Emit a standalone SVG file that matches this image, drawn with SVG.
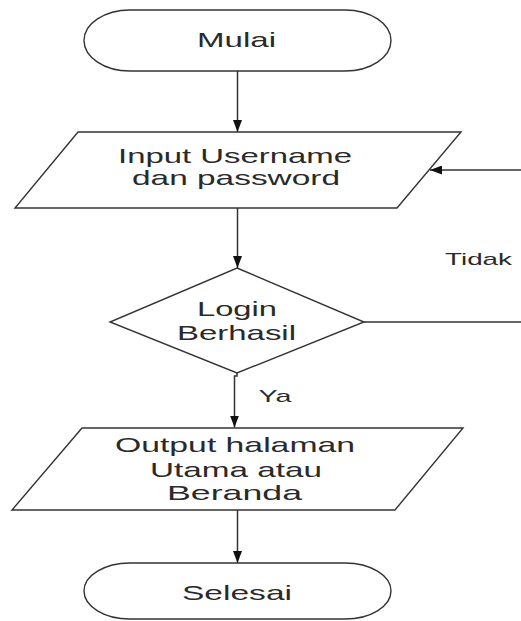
<svg xmlns="http://www.w3.org/2000/svg" width="521" height="621" viewBox="0 0 521 621">
<style>
.shape{fill:#ffffff;stroke:#333333;stroke-width:1.4}
.conn{fill:none;stroke:#333333;stroke-width:1.5}
.t{font-family:"Liberation Sans",Arial,sans-serif;font-size:21px;fill:#2a2a2a;text-anchor:middle}
.s{font-family:"Liberation Sans",Arial,sans-serif;font-size:17px;fill:#2a2a2a;text-anchor:middle}
</style>
<defs>
<marker id="arr" viewBox="0 0 12 9" refX="12" refY="4.5" markerWidth="12" markerHeight="9" markerUnits="userSpaceOnUse" orient="auto">
<path d="M0,0 L12,4.5 L0,9 z" fill="#111111"/>
</marker>
</defs>
<rect width="521" height="621" fill="#ffffff"/>
<g id="connectors">
<path class="conn" d="M237.5,71 V132" marker-end="url(#arr)"/>
<path class="conn" d="M237.5,208 V268" marker-end="url(#arr)"/>
<path class="conn" d="M237,373 V376 H234.5 V427.5" marker-end="url(#arr)"/>
<path class="conn" d="M237.5,510 V563" marker-end="url(#arr)"/>
<path class="conn" d="M364,322 H521"/>
<path class="conn" d="M521,170 H430" marker-end="url(#arr)"/>
<text class="s" x="478.5" y="265" textLength="67" lengthAdjust="spacingAndGlyphs">Tidak</text>
<text class="s" x="275" y="402" textLength="33" lengthAdjust="spacingAndGlyphs">Ya</text>
</g>
<g id="mulai">
<rect class="shape" x="84" y="10" width="307" height="61" rx="46" ry="30.5"/>
<text class="t" x="236.5" y="47" textLength="79" lengthAdjust="spacingAndGlyphs">Mulai</text>
</g>
<g id="input">
<polygon class="shape" points="78,132 461,132 397,208 15,208"/>
<text class="t" x="235" y="163" textLength="234" lengthAdjust="spacingAndGlyphs">Input Username</text>
<text class="t" x="236" y="185" textLength="208" lengthAdjust="spacingAndGlyphs">dan password</text>
</g>
<g id="login">
<polygon class="shape" points="237,268 364,322 237,373 110,322"/>
<text class="t" x="237" y="316" textLength="80" lengthAdjust="spacingAndGlyphs">Login</text>
<text class="t" x="236.5" y="340" textLength="119" lengthAdjust="spacingAndGlyphs">Berhasil</text>
</g>
<g id="output">
<polygon class="shape" points="82,428 463,428 395,510 12,510"/>
<text class="t" x="235" y="452" textLength="240" lengthAdjust="spacingAndGlyphs">Output halaman</text>
<text class="t" x="236" y="477" textLength="172" lengthAdjust="spacingAndGlyphs">Utama atau</text>
<text class="t" x="234.5" y="500" textLength="135" lengthAdjust="spacingAndGlyphs">Beranda</text>
</g>
<g id="selesai">
<rect class="shape" x="84" y="563" width="307" height="56" rx="46" ry="28"/>
<text class="t" x="237" y="600" textLength="110" lengthAdjust="spacingAndGlyphs">Selesai</text>
</g>
</svg>
